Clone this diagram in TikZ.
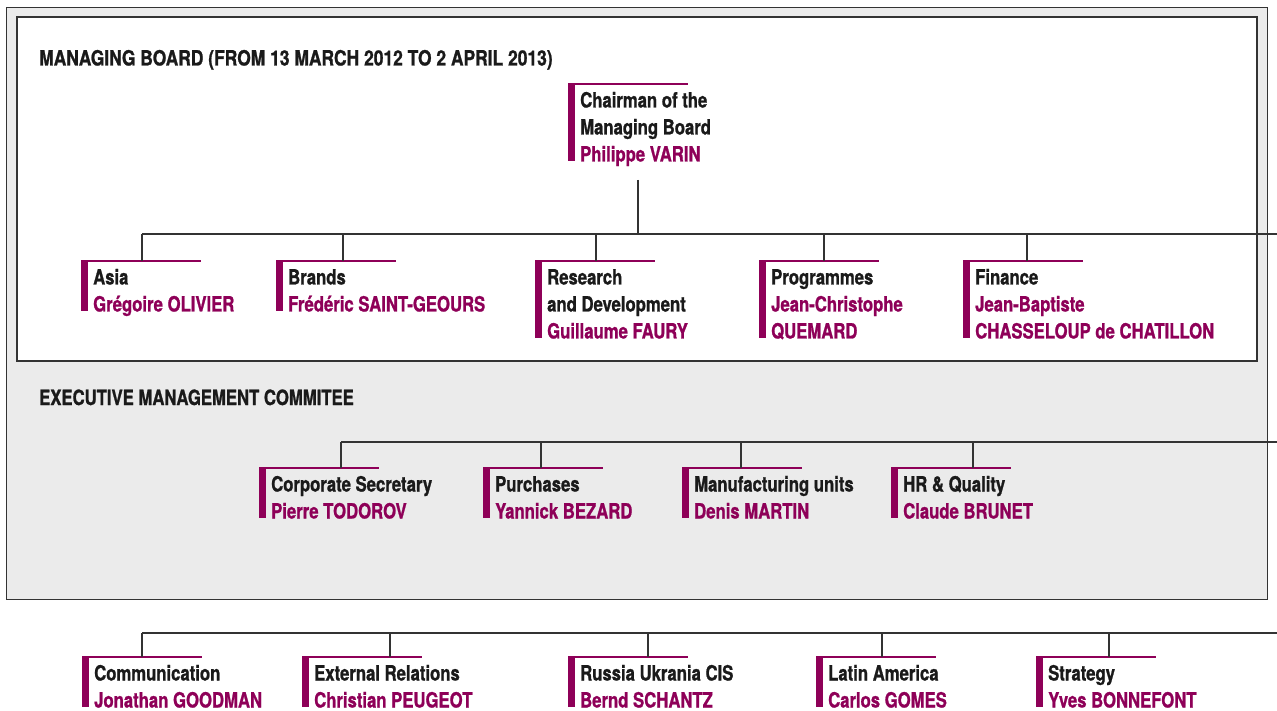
\documentclass[tikz,border=0pt]{standalone}
\usepackage{fontspec}
\setmainfont{TeX Gyre Heros}[FakeStretch=0.795,FakeBold=1]
\newfontfamily\widetitle{TeX Gyre Heros}[FakeStretch=0.83,FakeBold=1]
\definecolor{mag}{HTML}{8E0058}
\definecolor{ink}{HTML}{1A1A1A}
\definecolor{panel}{HTML}{EBEBEB}
\definecolor{rulec}{HTML}{333333}
\newcommand\nm{\color{mag}}
\newcommand\orgbox[5]{% name, barx, y0, nlines, content
  \fill[mag] (#2,#3) rectangle ++(7,{23+27*(#4-1)});
  \draw[mag,line width=1.4pt] (#2,#3) -- ++(120,0);
  \node[txt,anchor=base west] (#1) at ({#2+12},{#3+23.5}) {\begin{tabular}[t]{@{}l@{}}#5\end{tabular}};
}
\tikzset{
  txt/.style={inner sep=0pt,text=ink,font=\fontsize{21}{27}\selectfont\bfseries},
  conn/.style={draw=rulec,line width=1.3pt},
  frame/.style={draw=rulec,line width=1.4pt}
}
\begin{document}
\begin{tikzpicture}[x=1pt,y=-1pt]
\useasboundingbox (0,0) rectangle (1277,711);
% panels
\filldraw[frame,fill=panel] (6.5,7.5) rectangle (1267.5,599.5);
\filldraw[frame,fill=white] (17,17) rectangle (1257,361);
% titles
\node[txt,anchor=base west] (t1) at (39,65.5) {\widetitle\bfseries MANAGING BOARD (FROM 13 MARCH 2012 TO 2 APRIL 2013)};
\node[txt,anchor=base west] (t2) at (39,405) {EXECUTIVE MANAGEMENT COMMITEE};
% chairman
\orgbox{chair}{568}{84}{3}{Chairman of the\\Managing Board\\\nm Philippe VARIN}
\coordinate (chairout) at (638,180);
% bus lines
\coordinate (bus1) at (142,234); \coordinate (bus1e) at (1277,234);
\coordinate (bus2) at (341,442); \coordinate (bus2e) at (1277,442);
\coordinate (bus3) at (142,633); \coordinate (bus3e) at (1277,633);
\draw[conn] (bus1) -- (bus1e);
\draw[conn] (bus2) -- (bus2e);
\draw[conn] (bus3) -- (bus3e);
\draw[conn] (chairout) -- (chairout |- bus1);
% managing board members
\orgbox{asia}{81}{261}{2}{Asia\\\nm Grégoire OLIVIER}
\orgbox{brands}{276}{261}{2}{Brands\\\nm Frédéric SAINT-GEOURS}
\orgbox{rd}{535}{261}{3}{Research\\and Development\\\nm Guillaume FAURY}
\orgbox{prog}{759}{261}{3}{Programmes\\\nm Jean-Christophe\\\nm QUEMARD}
\orgbox{fin}{963}{261}{3}{Finance\\\nm Jean-Baptiste\\\nm CHASSELOUP de CHATILLON}
\coordinate (asia-in) at (142,261);
\coordinate (brands-in) at (343,261);
\coordinate (rd-in) at (596,261);
\coordinate (prog-in) at (824,261);
\coordinate (fin-in) at (1027,261);
\foreach \n in {asia,brands,rd,prog,fin}{\draw[conn] (\n-in |- bus1) -- (\n-in);}
% executive committee
\orgbox{corp}{259}{468}{2}{Corporate Secretary\\\nm Pierre TODOROV}
\orgbox{purch}{483}{468}{2}{Purchases\\\nm Yannick BEZARD}
\orgbox{manu}{682}{468}{2}{Manufacturing units\\\nm Denis MARTIN}
\orgbox{hr}{891}{468}{2}{HR \& Quality\\\nm Claude BRUNET}
\coordinate (corp-in) at (341,468);
\coordinate (purch-in) at (541,468);
\coordinate (manu-in) at (741,468);
\coordinate (hr-in) at (973,468);
\foreach \n in {corp,purch,manu,hr}{\draw[conn] (\n-in |- bus2) -- (\n-in);}
% bottom row
\orgbox{comm}{82}{657}{2}{Communication\\\nm Jonathan GOODMAN}
\orgbox{ext}{302}{657}{2}{External Relations\\\nm Christian PEUGEOT}
\orgbox{rus}{568}{657}{2}{Russia Ukrania CIS\\\nm Bernd SCHANTZ}
\orgbox{lat}{816}{657}{2}{Latin America\\\nm Carlos GOMES}
\orgbox{strat}{1036}{657}{2}{Strategy\\\nm Yves BONNEFONT}
\coordinate (comm-in) at (142,657);
\coordinate (ext-in) at (390,657);
\coordinate (rus-in) at (648,657);
\coordinate (lat-in) at (882,657);
\coordinate (strat-in) at (1109,657);
\foreach \n in {comm,ext,rus,lat,strat}{\draw[conn] (\n-in |- bus3) -- (\n-in);}
\end{tikzpicture}
\end{document}
